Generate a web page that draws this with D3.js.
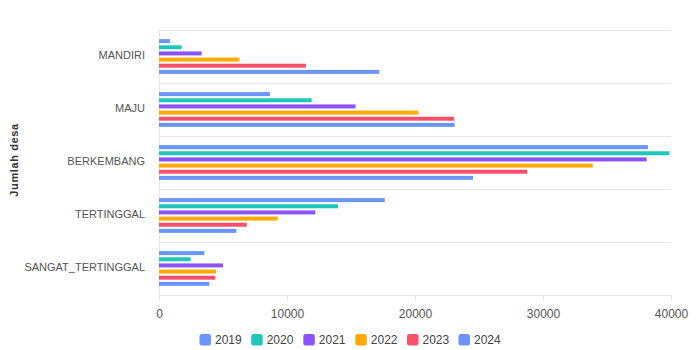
<!DOCTYPE html>
<html>
<head>
<meta charset="utf-8">
<script src="https://cdn.jsdelivr.net/npm/d3@7/dist/d3.min.js"></script>
<style>
  html, body { margin: 0; padding: 0; background: #fff; }
  svg { display: block; font-family: "Liberation Sans", Arial, sans-serif; }
</style>
</head>
<body>
<svg id="chart" width="699" height="350"></svg>
<script>
// Categories top-to-bottom as displayed
const categories = ["MANDIRI", "MAJU", "BERKEMBANG", "TERTINGGAL", "SANGAT_TERTINGGAL"];
const years = ["2019", "2020", "2021", "2022", "2023", "2024"];
const colors = ["#6a95fd", "#1fc6bc", "#8b52fb", "#ffaa00", "#f8506a", "#6a95fd"];
// values per year, in categories order
const v2019 = [860, 8670, 38200, 17640, 3540];
const v2020 = [1770, 11930, 39870, 13980, 2470];
const v2021 = [3330, 15360, 38100, 12210, 5000];
const v2022 = [6280, 20260, 33890, 9280, 4450];
const v2023 = [11480, 23050, 28760, 6860, 4400];
const v2024 = [17210, 23100, 24530, 6050, 3930];
const xTicks = [0, 10000, 20000, 30000, 40000];
const yTitle = "Jumlah desa";

const series = [v2019, v2020, v2021, v2022, v2023, v2024];
const svg = d3.select("#chart");

const pLeft = 159, pRight = 671, pTop = 30, pBottom = 295;
const x = d3.scaleLinear().domain([0, 40000]).range([pLeft, pRight]);
const y0 = d3.scaleBand().domain(categories).range([pTop, pBottom]).padding(0);
const bw = y0.bandwidth();
const groupLen = 34.75;
const y1 = d3.scaleBand().domain(years)
  .range([(bw - groupLen) / 2, (bw + groupLen) / 2]).paddingInner(0.35).paddingOuter(0);

const gridColor = "#e6e6e6";

// horizontal grid lines at band boundaries
const bounds = categories.map(c => y0(c)).concat([pBottom]);
svg.append("g").selectAll("line").data(bounds).join("line")
  .attr("x1", pLeft).attr("x2", pRight)
  .attr("y1", d => Math.round(d) + 0.5).attr("y2", d => Math.round(d) + 0.5)
  .attr("stroke", gridColor).attr("stroke-width", 1);

// y axis line
svg.append("line")
  .attr("x1", pLeft + 0.5).attr("x2", pLeft + 0.5)
  .attr("y1", pTop).attr("y2", pBottom + 1)
  .attr("stroke", gridColor);

// x axis ticks and labels
const xa = svg.append("g").attr("transform", `translate(0,${pBottom})`)
  .call(d3.axisBottom(x).tickValues(xTicks).tickSize(6).tickPadding(8).tickFormat(d3.format("d")));
xa.select(".domain").remove();
xa.selectAll(".tick line").attr("stroke", gridColor);
xa.selectAll(".tick text").attr("fill", "#555").attr("font-size", "12px")
  .attr("font-family", "Liberation Sans, Arial, sans-serif");

// category labels
svg.append("g").selectAll("text").data(categories).join("text")
  .attr("x", 145)
  .attr("y", d => y0(d) + bw / 2 - 1.5)
  .attr("text-anchor", "end")
  .attr("dominant-baseline", "central")
  .attr("font-size", "11px")
  .attr("fill", "#555")
  .text(d => d);

// bars
years.forEach((yr, i) => {
  svg.append("g").selectAll("rect").data(categories).join("rect")
    .attr("x", x(0))
    .attr("y", (c) => y0(c) + y1(yr))
    .attr("width", (c, j) => x(series[i][j]) - x(0))
    .attr("height", y1.bandwidth())
    .attr("fill", colors[i]);
});

// y title
svg.append("text")
  .attr("transform", `translate(18,${(pTop + pBottom) / 2 - 2.5}) rotate(-90)`)
  .attr("text-anchor", "middle")
  .attr("font-size", "11px")
  .attr("font-weight", "bold")
  .attr("letter-spacing", "0.6px")
  .attr("fill", "#333")
  .text(yTitle);

// legend
const legendX = [199.5, 251.2, 303.3, 355.3, 407, 458.5];
const lg = svg.append("g").selectAll("g").data(years).join("g")
  .attr("transform", (d, i) => `translate(${legendX[i]},334)`);
lg.append("rect").attr("width", 11.5).attr("height", 11.5).attr("rx", 2.5)
  .attr("fill", (d, i) => colors[i]);
lg.append("text").attr("x", 15.5).attr("y", 6).attr("dominant-baseline", "central")
  .attr("font-size", "12px").attr("fill", "#444").text(d => d);
</script>
</body>
</html>
